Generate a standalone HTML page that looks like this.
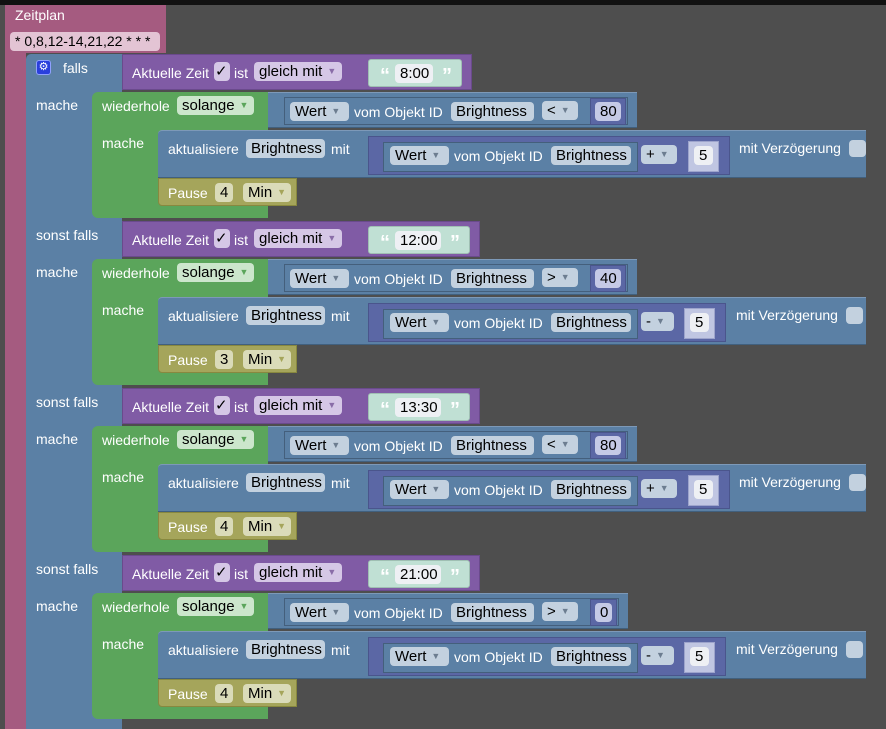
<!DOCTYPE html>
<html><head><meta charset="utf-8">
<style>
*{margin:0;padding:0;box-sizing:border-box}
body{width:886px;height:729px;background:#4e4e4e;position:relative;overflow:hidden;font-family:"Liberation Sans",sans-serif;font-size:14px;color:#fff}
div,span{position:absolute}
.t{white-space:nowrap;line-height:16px}
.p{white-space:nowrap;height:19px;line-height:19px;border-radius:4px;color:#000;padding:0 0 0 5px;font-size:15px;overflow:hidden}
.pl{background:#d5c7e6}
.pb{background:#c3d1df}
.pg{background:#cce6cc}
.po{background:#dadbb9}
.pw{background:#eef0f4}
.ar{font-size:9px;color:#6c7d90;margin-left:5px;vertical-align:2px}
.q{white-space:nowrap;font-size:20px;font-weight:bold;line-height:20px;top:66px;color:#fff}
.blue{background:#5b80a5;border-top:1px solid #7d99b8;border-bottom:1px solid #41607e}
.purp{background:#805ba5;border:1px solid #6a4a8c}
.green{background:#5ba55b;border-radius:6px 0 0 6px}
.ol{background:#a5a55b;border:1px solid #88883f}
.dp{background:#5b67a5;border:1px solid #4a558c}
.ib{background:#5b80a5;border:1px solid #445f7c}
.sec{left:0;width:886px;height:167px}
</style></head><body>
<div style="left:0;top:0;width:886px;height:5px;background:#111"></div>
<div style="left:5px;top:5px;width:161px;height:48px;background:#a55b80;border-radius:4px 0 0 0"></div>
<div style="left:5px;top:5px;width:21px;height:724px;background:#a55b80"></div>
<div class="t" style="left:15px;top:7px">Zeitplan</div>
<div class="p" style="left:10px;top:32px;width:150px;background:#e3c4d4;padding-left:5px;font-size:14px">* 0,8,12-14,21,22 * * *</div>
<div style="left:26px;top:54px;width:96px;height:675px;background:#5b80a5;border-radius:5px 0 0 0"></div>
<div style="left:36px;top:60px;width:15px;height:15px;background:#2a3fdc;border-radius:3px;border:1px solid #8fa0ff;color:#fff;font-size:11px;line-height:13px;text-align:center">⚙</div>
<div class="t" style="left:63px;top:60px">falls</div>

<div class="sec" style="top:0">
 <div class="purp" style="left:122px;top:54px;width:350px;height:36px"></div>
 <div class="t" style="left:132px;top:65px">Aktuelle Zeit</div>
 <div class="p pl" style="left:214px;top:62px;width:16px;padding-left:1px">✓</div>
 <div class="t" style="left:234px;top:65px">ist</div>
 <div class="p pl" style="left:254px;top:62px;width:88px">gleich mit<span class="ar" style="position:static;color:#8a6da8">▼</span></div>
 <div style="left:368px;top:59px;width:94px;height:28px;background:#c0e0d4;border:1px solid #9fbfb3;border-radius:3px"></div>
 <div class="q" style="left:380px">“</div>
 <div class="p pw" style="left:395px;top:64px;width:38px">8:00</div>
 <div class="q" style="left:442px">”</div>
 <div class="t" style="left:36px;top:97px">mache</div>
 <div class="green" style="left:92px;top:92px;width:176px;height:126px"></div>
 <div class="t" style="left:102px;top:98px">wiederhole</div>
 <div class="p pg" style="left:177px;top:96px;width:77px">solange<span class="ar" style="position:static;color:#5ba55b">▼</span></div>
 <div class="blue" style="left:268px;top:92px;width:369px;height:36px"></div>
 <div class="ib" style="left:284px;top:97px;width:344px;height:28px"></div>
 <div class="p pb" style="left:290px;top:102px;width:59px">Wert<span class="ar" style="position:static">▼</span></div>
 <div class="t" style="left:354px;top:104px">vom Objekt ID</div>
 <div class="p pb" style="left:451px;top:102px;width:83px">Brightness</div>
 <div class="p pb" style="left:542px;top:101px;width:36px">&lt;<span class="ar" style="position:static">▼</span></div>
 <div class="dp" style="left:590px;top:98px;width:36px;height:27px"></div>
 <div class="p" style="left:595px;top:102px;width:26px;background:#c5cae6">80</div>
 <div class="t" style="left:102px;top:135px">mache</div>
 <div class="blue" style="left:158px;top:130px;width:708px;height:48px;border-radius:4px 0 0 0"></div>
 <div class="t" style="left:168px;top:141px">aktualisiere</div>
 <div class="p pb" style="left:246px;top:139px;width:79px">Brightness</div>
 <div class="t" style="left:331px;top:141px">mit</div>
 <div class="dp" style="left:368px;top:136px;width:362px;height:39px"></div>
 <div class="ib" style="left:383px;top:142px;width:255px;height:30px"></div>
 <div class="p pb" style="left:390px;top:146px;width:59px">Wert<span class="ar" style="position:static">▼</span></div>
 <div class="t" style="left:454px;top:148px">vom Objekt ID</div>
 <div class="p pb" style="left:551px;top:146px;width:80px">Brightness</div>
 <div class="p pb" style="left:641px;top:145px;width:36px">+<span class="ar" style="position:static">▼</span></div>
 <div style="left:688px;top:141px;width:31px;height:31px;background:#c0c6e2;border:1px solid #9da4cc"></div>
 <div class="p pw" style="left:694px;top:146px;width:19px">5</div>
 <div class="t" style="left:739px;top:140px">mit Verzögerung</div>
 <div style="left:849px;top:140px;width:17px;height:17px;background:#c3d1df;border-radius:4px"></div>
 <div class="ol" style="left:158px;top:178px;width:139px;height:28px;border-radius:0 0 0 4px"></div>
 <div class="t" style="left:168px;top:185px">Pause</div>
 <div class="p po" style="left:215px;top:183px;width:18px">4</div>
 <div class="p po" style="left:243px;top:183px;width:48px">Min<span class="ar" style="position:static;color:#a5a55b">▼</span></div>
</div>

<div class="sec" style="top:167px">
 <div class="t" style="left:36px;top:60px">sonst falls</div>
 <div class="purp" style="left:122px;top:54px;width:358px;height:36px"></div>
 <div class="t" style="left:132px;top:65px">Aktuelle Zeit</div>
 <div class="p pl" style="left:214px;top:62px;width:16px;padding-left:1px">✓</div>
 <div class="t" style="left:234px;top:65px">ist</div>
 <div class="p pl" style="left:254px;top:62px;width:88px">gleich mit<span class="ar" style="position:static;color:#8a6da8">▼</span></div>
 <div style="left:368px;top:59px;width:102px;height:28px;background:#c0e0d4;border:1px solid #9fbfb3;border-radius:3px"></div>
 <div class="q" style="left:380px">“</div>
 <div class="p pw" style="left:395px;top:64px;width:46px">12:00</div>
 <div class="q" style="left:450px">”</div>
 <div class="t" style="left:36px;top:97px">mache</div>
 <div class="green" style="left:92px;top:92px;width:176px;height:126px"></div>
 <div class="t" style="left:102px;top:98px">wiederhole</div>
 <div class="p pg" style="left:177px;top:96px;width:77px">solange<span class="ar" style="position:static;color:#5ba55b">▼</span></div>
 <div class="blue" style="left:268px;top:92px;width:369px;height:36px"></div>
 <div class="ib" style="left:284px;top:97px;width:344px;height:28px"></div>
 <div class="p pb" style="left:290px;top:102px;width:59px">Wert<span class="ar" style="position:static">▼</span></div>
 <div class="t" style="left:354px;top:104px">vom Objekt ID</div>
 <div class="p pb" style="left:451px;top:102px;width:83px">Brightness</div>
 <div class="p pb" style="left:542px;top:101px;width:36px">&gt;<span class="ar" style="position:static">▼</span></div>
 <div class="dp" style="left:590px;top:98px;width:36px;height:27px"></div>
 <div class="p" style="left:595px;top:102px;width:26px;background:#c5cae6">40</div>
 <div class="t" style="left:102px;top:135px">mache</div>
 <div class="blue" style="left:158px;top:130px;width:708px;height:48px;border-radius:4px 0 0 0"></div>
 <div class="t" style="left:168px;top:141px">aktualisiere</div>
 <div class="p pb" style="left:246px;top:139px;width:79px">Brightness</div>
 <div class="t" style="left:331px;top:141px">mit</div>
 <div class="dp" style="left:368px;top:136px;width:358px;height:39px"></div>
 <div class="ib" style="left:383px;top:142px;width:255px;height:30px"></div>
 <div class="p pb" style="left:390px;top:146px;width:59px">Wert<span class="ar" style="position:static">▼</span></div>
 <div class="t" style="left:454px;top:148px">vom Objekt ID</div>
 <div class="p pb" style="left:551px;top:146px;width:80px">Brightness</div>
 <div class="p pb" style="left:641px;top:145px;width:33px">-<span class="ar" style="position:static">▼</span></div>
 <div style="left:684px;top:141px;width:31px;height:31px;background:#c0c6e2;border:1px solid #9da4cc"></div>
 <div class="p pw" style="left:690px;top:146px;width:19px">5</div>
 <div class="t" style="left:736px;top:140px">mit Verzögerung</div>
 <div style="left:846px;top:140px;width:17px;height:17px;background:#c3d1df;border-radius:4px"></div>
 <div class="ol" style="left:158px;top:178px;width:139px;height:28px;border-radius:0 0 0 4px"></div>
 <div class="t" style="left:168px;top:185px">Pause</div>
 <div class="p po" style="left:215px;top:183px;width:18px">3</div>
 <div class="p po" style="left:243px;top:183px;width:48px">Min<span class="ar" style="position:static;color:#a5a55b">▼</span></div>
</div>

<div class="sec" style="top:334px">
 <div class="t" style="left:36px;top:60px">sonst falls</div>
 <div class="purp" style="left:122px;top:54px;width:358px;height:36px"></div>
 <div class="t" style="left:132px;top:65px">Aktuelle Zeit</div>
 <div class="p pl" style="left:214px;top:62px;width:16px;padding-left:1px">✓</div>
 <div class="t" style="left:234px;top:65px">ist</div>
 <div class="p pl" style="left:254px;top:62px;width:88px">gleich mit<span class="ar" style="position:static;color:#8a6da8">▼</span></div>
 <div style="left:368px;top:59px;width:102px;height:28px;background:#c0e0d4;border:1px solid #9fbfb3;border-radius:3px"></div>
 <div class="q" style="left:380px">“</div>
 <div class="p pw" style="left:395px;top:64px;width:46px">13:30</div>
 <div class="q" style="left:450px">”</div>
 <div class="t" style="left:36px;top:97px">mache</div>
 <div class="green" style="left:92px;top:92px;width:176px;height:126px"></div>
 <div class="t" style="left:102px;top:98px">wiederhole</div>
 <div class="p pg" style="left:177px;top:96px;width:77px">solange<span class="ar" style="position:static;color:#5ba55b">▼</span></div>
 <div class="blue" style="left:268px;top:92px;width:369px;height:36px"></div>
 <div class="ib" style="left:284px;top:97px;width:344px;height:28px"></div>
 <div class="p pb" style="left:290px;top:102px;width:59px">Wert<span class="ar" style="position:static">▼</span></div>
 <div class="t" style="left:354px;top:104px">vom Objekt ID</div>
 <div class="p pb" style="left:451px;top:102px;width:83px">Brightness</div>
 <div class="p pb" style="left:542px;top:101px;width:36px">&lt;<span class="ar" style="position:static">▼</span></div>
 <div class="dp" style="left:590px;top:98px;width:36px;height:27px"></div>
 <div class="p" style="left:595px;top:102px;width:26px;background:#c5cae6">80</div>
 <div class="t" style="left:102px;top:135px">mache</div>
 <div class="blue" style="left:158px;top:130px;width:708px;height:48px;border-radius:4px 0 0 0"></div>
 <div class="t" style="left:168px;top:141px">aktualisiere</div>
 <div class="p pb" style="left:246px;top:139px;width:79px">Brightness</div>
 <div class="t" style="left:331px;top:141px">mit</div>
 <div class="dp" style="left:368px;top:136px;width:362px;height:39px"></div>
 <div class="ib" style="left:383px;top:142px;width:255px;height:30px"></div>
 <div class="p pb" style="left:390px;top:146px;width:59px">Wert<span class="ar" style="position:static">▼</span></div>
 <div class="t" style="left:454px;top:148px">vom Objekt ID</div>
 <div class="p pb" style="left:551px;top:146px;width:80px">Brightness</div>
 <div class="p pb" style="left:641px;top:145px;width:36px">+<span class="ar" style="position:static">▼</span></div>
 <div style="left:688px;top:141px;width:31px;height:31px;background:#c0c6e2;border:1px solid #9da4cc"></div>
 <div class="p pw" style="left:694px;top:146px;width:19px">5</div>
 <div class="t" style="left:739px;top:140px">mit Verzögerung</div>
 <div style="left:849px;top:140px;width:17px;height:17px;background:#c3d1df;border-radius:4px"></div>
 <div class="ol" style="left:158px;top:178px;width:139px;height:28px;border-radius:0 0 0 4px"></div>
 <div class="t" style="left:168px;top:185px">Pause</div>
 <div class="p po" style="left:215px;top:183px;width:18px">4</div>
 <div class="p po" style="left:243px;top:183px;width:48px">Min<span class="ar" style="position:static;color:#a5a55b">▼</span></div>
</div>

<div class="sec" style="top:501px">
 <div class="t" style="left:36px;top:60px">sonst falls</div>
 <div class="purp" style="left:122px;top:54px;width:358px;height:36px"></div>
 <div class="t" style="left:132px;top:65px">Aktuelle Zeit</div>
 <div class="p pl" style="left:214px;top:62px;width:16px;padding-left:1px">✓</div>
 <div class="t" style="left:234px;top:65px">ist</div>
 <div class="p pl" style="left:254px;top:62px;width:88px">gleich mit<span class="ar" style="position:static;color:#8a6da8">▼</span></div>
 <div style="left:368px;top:59px;width:102px;height:28px;background:#c0e0d4;border:1px solid #9fbfb3;border-radius:3px"></div>
 <div class="q" style="left:380px">“</div>
 <div class="p pw" style="left:395px;top:64px;width:46px">21:00</div>
 <div class="q" style="left:450px">”</div>
 <div class="t" style="left:36px;top:97px">mache</div>
 <div class="green" style="left:92px;top:92px;width:176px;height:126px"></div>
 <div class="t" style="left:102px;top:98px">wiederhole</div>
 <div class="p pg" style="left:177px;top:96px;width:77px">solange<span class="ar" style="position:static;color:#5ba55b">▼</span></div>
 <div class="blue" style="left:268px;top:92px;width:360px;height:36px"></div>
 <div class="ib" style="left:284px;top:97px;width:335px;height:28px"></div>
 <div class="p pb" style="left:290px;top:102px;width:59px">Wert<span class="ar" style="position:static">▼</span></div>
 <div class="t" style="left:354px;top:104px">vom Objekt ID</div>
 <div class="p pb" style="left:451px;top:102px;width:83px">Brightness</div>
 <div class="p pb" style="left:542px;top:101px;width:36px">&gt;<span class="ar" style="position:static">▼</span></div>
 <div class="dp" style="left:590px;top:98px;width:27px;height:27px"></div>
 <div class="p" style="left:595px;top:102px;width:17px;background:#c5cae6">0</div>
 <div class="t" style="left:102px;top:135px">mache</div>
 <div class="blue" style="left:158px;top:130px;width:708px;height:48px;border-radius:4px 0 0 0"></div>
 <div class="t" style="left:168px;top:141px">aktualisiere</div>
 <div class="p pb" style="left:246px;top:139px;width:79px">Brightness</div>
 <div class="t" style="left:331px;top:141px">mit</div>
 <div class="dp" style="left:368px;top:136px;width:358px;height:39px"></div>
 <div class="ib" style="left:383px;top:142px;width:255px;height:30px"></div>
 <div class="p pb" style="left:390px;top:146px;width:59px">Wert<span class="ar" style="position:static">▼</span></div>
 <div class="t" style="left:454px;top:148px">vom Objekt ID</div>
 <div class="p pb" style="left:551px;top:146px;width:80px">Brightness</div>
 <div class="p pb" style="left:641px;top:145px;width:33px">-<span class="ar" style="position:static">▼</span></div>
 <div style="left:684px;top:141px;width:31px;height:31px;background:#c0c6e2;border:1px solid #9da4cc"></div>
 <div class="p pw" style="left:690px;top:146px;width:19px">5</div>
 <div class="t" style="left:736px;top:140px">mit Verzögerung</div>
 <div style="left:846px;top:140px;width:17px;height:17px;background:#c3d1df;border-radius:4px"></div>
 <div class="ol" style="left:158px;top:178px;width:139px;height:28px;border-radius:0 0 0 4px"></div>
 <div class="t" style="left:168px;top:185px">Pause</div>
 <div class="p po" style="left:215px;top:183px;width:18px">4</div>
 <div class="p po" style="left:243px;top:183px;width:48px">Min<span class="ar" style="position:static;color:#a5a55b">▼</span></div>
</div>
</body></html>
